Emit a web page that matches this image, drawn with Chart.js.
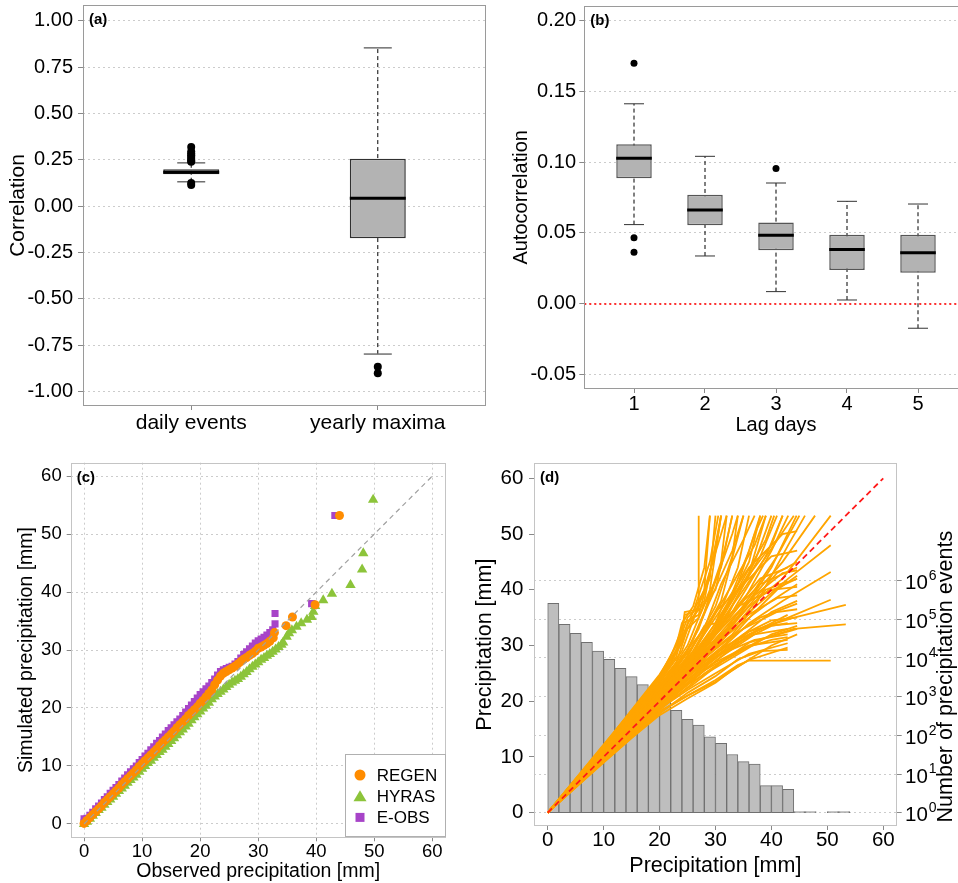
<!DOCTYPE html>
<html>
<head>
<meta charset="utf-8">
<script src="https://cdn.jsdelivr.net/npm/chart.js@4.4.1/dist/chart.umd.min.js"></script>
<style>
html, body { margin: 0; padding: 0; background: #fff; overflow: hidden; width: 958px; height: 883px; }
canvas { position: absolute; }
</style>
</head>
<body>
<canvas id="ca" width="490" height="440" style="left:0;top:0"></canvas>
<canvas id="cb" width="500" height="440" style="left:480px;top:0"></canvas>
<canvas id="cc" width="480" height="443" style="left:0;top:440px"></canvas>
<canvas id="cd" width="488" height="443" style="left:470px;top:440px"></canvas>
<script>
const FONT = "'Liberation Sans', Arial, Helvetica, sans-serif";

// (a) correlation boxplots
const corrGroups = ['daily events', 'yearly maxima'];
const corrQ1 = [0.172, -0.173];
const corrMedian = [0.183, 0.043];
const corrQ3 = [0.199, 0.256];
const corrLow = [0.132, -0.797];
const corrHigh = [0.234, 0.854];
const corrOutliers = [[0.32, 0.295, 0.285, 0.275, 0.265, 0.255, 0.245, 0.24, 0.125, 0.115], [-0.865, -0.901]];
const corrTicks = [-1, -0.75, -0.5, -0.25, 0, 0.25, 0.5, 0.75, 1];

// (b) autocorrelation by lag
const lagDays = [1, 2, 3, 4, 5];
const acfQ1 = [0.0885, 0.0554, 0.0378, 0.0240, 0.0220];
const acfMedian = [0.1026, 0.0662, 0.0484, 0.0383, 0.0361];
const acfQ3 = [0.1125, 0.0770, 0.0573, 0.0488, 0.0488];
const acfLow = [0.0559, 0.0338, 0.0087, 0.0028, -0.0171];
const acfHigh = [0.1410, 0.1040, 0.0852, 0.0723, 0.0704];
const acfOutliers = [[0.1695, 0.0467, 0.0364], [], [0.0955], [], []];
const acfTicks = [-0.05, 0, 0.05, 0.10, 0.15, 0.20];

// (c) QQ plot, observed vs simulated
const regenObs = [0, 0.5, 1, 1.5, 2, 2.5, 3, 3.5, 4, 4.5, 5, 5.5, 6, 6.5, 7, 7.5, 8, 8.5, 9, 9.5, 10,
  10.5, 11, 11.5, 12, 12.5, 13, 13.5, 14, 14.5, 15, 15.5, 16, 16.5, 17, 17.5, 18, 18.5, 19, 19.5, 20,
  20.5, 21, 21.5, 22, 22.5, 23, 23.5, 24, 24.5, 25, 25.5, 26, 26.5, 27, 27.5, 28, 28.5, 29, 29.5, 30, 30.5, 31, 31.5, 32,
  32.6, 32.8, 34.8, 35.9, 39.8, 44.0];
const regenSim = [0.1, 0.6, 1.1, 1.6, 2.1, 2.6, 3.1, 3.7, 4.2, 4.7, 5.2, 5.7, 6.2, 6.8, 7.3, 7.8, 8.3, 8.8, 9.3, 9.9, 10.4,
  10.9, 11.4, 11.9, 12.4, 12.9, 13.5, 14.0, 14.5, 15.0, 15.5, 16.0, 16.6, 17.1, 17.6, 18.1, 18.7, 19.2, 19.7, 20.2, 20.8,
  21.3, 21.9, 22.5, 23.1, 24, 24.8, 25.5, 26, 26.3, 26.6, 26.9, 27.2, 27.6, 28, 28.4, 28.7, 29.1, 29.4, 29.8, 30.3, 30.5, 30.8, 31.1, 31.5,
  32.1, 33.0, 34.2, 35.7, 37.8, 53.2];
const hyrasObs = [0, 0.5, 1, 1.5, 2, 2.5, 3, 3.5, 4, 4.5, 5, 5.5, 6, 6.5, 7, 7.5, 8, 8.5, 9, 9.5, 10,
  10.5, 11, 11.5, 12, 12.5, 13, 13.5, 14, 14.5, 15, 15.5, 16, 16.5, 17, 17.5, 18, 18.5, 19, 19.5, 20, 20.5, 21, 21.5, 22,
  22.5, 23, 23.5, 24, 24.5, 25, 25.5, 26, 26.5, 27, 27.5, 28, 28.5, 29, 29.5, 30, 30.5, 31, 31.5, 32, 32.5, 33, 33.5, 34,
  34.3, 34.9, 35.3, 35.8, 36.6, 37.4, 38.4, 39.2, 39.5, 39.8, 41.2, 42.7, 45.9, 47.9, 48.1, 49.8];
const hyrasSim = [0, 0.4, 0.9, 1.4, 1.9, 2.4, 2.8, 3.3, 3.8, 4.2, 4.7, 5.2, 5.7, 6.1, 6.6, 7.1, 7.6, 8.0, 8.5, 9.0, 9.5,
  10.0, 10.5, 10.9, 11.4, 11.9, 12.4, 12.8, 13.3, 13.8, 14.3, 14.8, 15.3, 15.8, 16.3, 16.8, 17.3, 17.9, 18.4, 18.9, 19.4, 19.9, 20.4, 20.9, 21.5,
  22.0, 22.4, 22.8, 23.2, 23.6, 24.0, 24.4, 24.7, 25.0, 25.4, 25.8, 26.2, 26.7, 27.1, 27.5, 27.9, 28.3, 28.6, 29.0, 29.3, 29.7, 30.1, 30.5, 30.9,
  31.3, 32.3, 32.9, 33.4, 34.0, 34.6, 35.2, 35.7, 36.6, 37.6, 38.6, 39.7, 41.2, 43.9, 46.7, 55.9];
const eobsObs = [0, 0, 0.5, 1, 1.5, 2, 2.5, 3, 3.5, 4, 4.5, 5, 5.5, 6, 6.5, 7, 7.5, 8, 8.5, 9, 9.5, 10,
  10.5, 11, 11.5, 12, 12.5, 13, 13.5, 14, 14.5, 15, 15.5, 16, 16.5, 17, 17.5, 18, 18.5, 19, 19.5, 20,
  20.5, 21, 21.5, 22, 22.5, 23, 23.5, 24, 24.5, 25, 25.5, 26, 26.5, 27, 27.5, 28, 28.5, 29, 29.5, 30, 30.5, 31, 31.5, 32, 32.5,
  32.9, 32.9, 39.2, 43.2];
const eobsSim = [0.3, 0.9, 1.0, 1.5, 2.0, 2.6, 3.1, 3.6, 4.2, 4.7, 5.3, 5.8, 6.3, 6.8, 7.4, 7.9, 8.5, 9.0, 9.5, 10.0, 10.6, 11.1,
  11.7, 12.2, 12.8, 13.3, 13.9, 14.4, 15.0, 15.5, 16.1, 16.6, 17.1, 17.6, 18.1, 18.7, 19.3, 19.9, 20.5, 21.1, 21.7, 22.3,
  22.8, 23.3, 23.8, 24.4, 25.0, 25.7, 26.3, 26.6, 26.8, 27.0, 27.2, 27.6, 28.0, 28.6, 29.2, 29.7, 30.2, 30.7, 31.2, 31.6, 31.9, 32.2, 32.6, 33.0, 33.5,
  34.5, 36.3, 38.0, 53.2];
const precipTicks = [0, 10, 20, 30, 40, 50, 60];

// (d) station QQ lines and event histogram
const binCenters = [1, 3, 5, 7, 9, 11, 13, 15, 17, 19, 21, 23, 25, 27, 29, 31, 33, 35, 37, 39, 41, 43, 45, 47, 51, 53];
const binCounts = [257000, 74000, 43600, 25500, 15100, 9270, 5400, 3300, 2040, 1220, 740, 445, 258, 185, 92, 62, 32, 21, 18, 5, 5, 4, 1, 1, 1, 1];
const eventTicks = [1, 10, 100, 1000, 10000, 100000, 1000000];
const eventExponents = ['0', '1', '2', '3', '4', '5', '6'];
const stationLines = [
  [[0, 0], [10, 12], [20, 24.5], [24, 32], [24.5, 36], [27, 36.5], [27, 53.3]],
  [[0, 0], [10, 11.8], [20, 24], [24, 31], [26, 35], [29, 42], [30, 53.3]],
  [[0, 0], [10, 11.3], [20, 22.8], [25, 29], [28, 36], [31, 45], [32, 53.3]],
  [[0, 0], [10, 11], [20, 22.3], [25, 28], [30, 37], [33, 46], [34, 53.3]],
  [[0, 0], [10, 10.4], [20, 21], [25, 27], [30, 34], [34, 44], [36, 53.3]],
  [[0, 0], [10, 10.7], [20, 21.6], [26, 28], [32, 37], [36, 47], [38, 53.3]],
  [[0, 0], [10, 10.1], [20, 20.5], [26, 27], [32, 35], [37, 45], [40, 53.3]],
  [[0, 0], [10, 10.5], [20, 21.2], [27, 28], [33, 36], [39, 46], [42, 53.3]],
  [[0, 0], [10, 10], [20, 20], [27, 27], [34, 35], [40, 44], [44.5, 53.3]],
  [[0, 0], [10, 9.8], [20, 20.2], [28, 29], [36, 38], [42, 45], [47.8, 53.3]],
  [[0, 0], [10, 10.2], [20, 20.8], [28, 30], [35, 40], [44, 53.3]],
  [[0, 0], [10, 11.6], [20, 23.5], [24, 29], [28, 40], [29, 53.3]],
  [[0, 0], [10, 11.1], [20, 22.5], [25, 30], [29, 40], [31, 53.3]],
  [[0, 0], [10, 10.6], [20, 21.4], [26, 29], [31, 38], [35, 53.3]],
  [[0, 0], [10, 9.9], [20, 19.8], [28, 28], [36, 37], [42, 42], [50.6, 53.3]],
  [[0, 0], [10, 9.7], [20, 19.5], [28, 27.5], [36, 36], [43, 42], [50.6, 48]],
  [[0, 0], [10, 9.6], [20, 19.2], [28, 26.5], [36, 34], [42, 38], [50.6, 43.2]],
  [[0, 0], [10, 9.4], [20, 18.8], [28, 25.5], [36, 32], [43, 35], [50.6, 38.2]],
  [[0, 0], [10, 9.2], [20, 18], [25, 21], [30, 23.8], [34, 26.5], [36, 27.3], [50.6, 27.3]],
  [[0, 0], [10, 9.5], [20, 19], [28, 26], [36, 32.5], [44, 35], [53.3, 37.3]],
  [[0, 0], [10, 9.3], [20, 18.4], [28, 25], [36, 30.5], [44, 33], [53.3, 33.8]],
  [[0, 0], [10, 9.1], [20, 17.8], [25, 21.5], [30, 24.5], [34, 27.5], [38, 29], [42.9, 29.2]],
  [[0, 0], [10, 9.4], [20, 18.7], [28, 25.5], [35, 29.5], [40, 31], [42.9, 31.5]],
  [[0, 0], [10, 9.6], [20, 19.3], [28, 26.5], [35, 31], [40, 33.5], [42.9, 34]],
  [[0, 0], [10, 9.9], [20, 19.9], [28, 28], [35, 33], [41, 36], [44.6, 36.5]],
  [[0, 0], [10, 10], [20, 20.3], [28, 29], [35, 35], [41, 38.5], [44.6, 39]],
  [[0, 0], [10, 10.3], [20, 20.9], [28, 31], [34, 37], [40, 40], [44.6, 40.5]],
  [[0, 0], [10, 9.8], [20, 19.7], [28, 27], [35, 32], [40, 34.5], [44.6, 35]],
  [[0, 0], [10, 9.2], [20, 18.2], [25, 21], [30, 23.5], [33, 25.5], [36, 27.5], [40, 30], [44.6, 32]],
  [[0, 0], [10, 9], [15, 13.4], [20, 17.5], [25, 20.5], [30, 23.3], [33, 25.6], [36, 27.4], [42.9, 29.6]],
  [[0, 0], [10, 10.9], [20, 22], [26, 30], [30, 36], [34, 40], [40, 48], [42, 53.3]],
  [[0, 0], [10, 10.2], [20, 20.7], [27, 29], [32, 35], [38, 41], [44.6, 44]],
  [[0, 0], [10, 10.4], [20, 21.1], [25, 26], [30, 32], [36, 38], [44.6, 42]],
  [[0, 0], [10, 9.9], [20, 20], [26, 26], [32, 31], [38, 35], [44.6, 37.5]],
  [[0, 0], [10, 11.4], [20, 23], [24, 27.5], [27, 33], [33, 50], [34, 53.3]],
  [[0, 0], [10, 12.2], [20, 24.3], [23, 30], [24, 34], [26, 37], [28, 44], [29, 53.3]],
  [[0, 0], [10, 9.5], [20, 19.4], [26, 24], [31, 28], [37, 32], [42.9, 33]],
  [[0, 0], [10, 10.6], [20, 21.5], [26, 28], [30, 33], [36, 43], [39, 53.3]],
  [[0, 0], [10, 11.5], [20, 23.8], [23, 28], [24.3, 33], [25, 35], [28, 38], [31, 53.3]],
  [[0, 0], [10, 11.2], [20, 23.2], [24, 30.5], [25, 34], [30, 40], [33, 53.3]],
  [[0, 0], [10, 10.8], [20, 22.2], [24, 28], [28, 33], [31, 41], [35, 49], [37, 53.3]],
  [[0, 0], [10, 10.5], [20, 21.3], [26, 27.5], [30, 32], [34, 39], [38, 46], [41, 53.3]],
  [[0, 0], [10, 10.3], [20, 20.9], [26, 27], [31, 33], [35, 38], [40, 47], [43, 53.3]],
  [[0, 0], [10, 10.1], [20, 20.4], [27, 27.5], [32, 33], [37, 40], [41, 46], [45, 53.3]],
  [[0, 0], [10, 10.7], [20, 22], [25, 27], [29, 31], [33, 36], [38, 42], [42.9, 44]],
  [[0, 0], [10, 10.4], [20, 21], [26, 27], [31, 31], [36, 35], [40, 38], [44.6, 41]],
  [[0, 0], [10, 9.9], [20, 19.9], [27, 26.5], [32, 30], [38, 33], [42.9, 35.5]],
  [[0, 0], [10, 9.7], [20, 19.6], [27, 25.5], [31, 28.5], [37, 31], [42.9, 32]],
  [[0, 0], [10, 10], [20, 20.1], [27, 26], [33, 30], [39, 33.5], [44.6, 34]],
  [[0, 0], [10, 10.6], [20, 21.8], [25, 26.5], [28, 30], [32, 37], [36, 45], [38, 53.3]],
  [[0, 0], [10, 10.9], [20, 22.6], [24, 27.5], [26, 31], [29, 38], [33, 47], [35, 53.3]],
  [[0, 0], [10, 11.7], [20, 24.2], [22, 27], [24, 31.5], [26, 36], [29, 45], [30.5, 53.3]],
  [[0, 0], [10, 11.4], [20, 23.3], [23, 27], [25, 33], [27, 35], [31, 44], [33, 53.3]],
  [[0, 0], [10, 10.2], [20, 20.6], [26, 28], [30, 33], [35, 42], [39, 49], [40.5, 53.3]],
  [[0, 0], [10, 10.8], [20, 22.1], [25, 27.5], [30, 35], [36, 44], [42, 50], [44.6, 50.5]],
  [[0, 0], [10, 10.5], [20, 21.5], [25, 26], [30, 30], [35, 36], [41, 43], [44.6, 45]],
  [[0, 0], [10, 10], [20, 20.3], [25, 24.5], [30, 28], [35, 32], [40, 36], [44.6, 38]],
  [[0, 0], [10, 9.8], [20, 19.8], [25, 24], [30, 27], [36, 30], [42.9, 31]],
  [[0, 0], [10, 9.3], [20, 18.6], [25, 22], [30, 25], [36, 28.5], [42.9, 30.4]],
  [[0, 0], [10, 9.6], [20, 19.1], [25, 23], [30, 26], [35, 29], [40, 32], [44.6, 33.5]],
  [[0, 0], [10, 11], [20, 22.4], [24, 26.5], [26, 30], [28, 33.5], [30, 34], [33, 39], [36, 42], [40, 46], [44.6, 47]],
  [[0, 0], [10, 10.3], [20, 21], [24, 24.5], [28, 29], [33, 34], [37, 39], [42, 43], [44.6, 43.5]],
  [[0, 0], [10, 12.1], [20, 24.8], [22, 28], [24, 33], [24.5, 35.5], [26, 36], [28, 40], [31, 50], [32, 53.3]],
  [[0, 0], [10, 11.9], [20, 24.6], [23, 29], [24.2, 34], [27, 35.5], [30, 47], [31, 53.3]],
  [[0, 0], [10, 10.4], [20, 21.2], [25, 26.5], [29, 30.5], [34, 41], [37, 50], [38.5, 53.3]],
  [[0, 0], [10, 9.9], [20, 20.2], [26, 25.5], [32, 30.5], [37, 36], [41, 40], [44.6, 42.5]],
  [[0, 0], [10, 10.1], [20, 20.5], [27, 27], [33, 32], [37, 37], [43, 48], [46, 53.3]],
  [[0, 0], [10, 10.2], [20, 20.8], [28, 28], [34, 34], [39, 40], [42.9, 41.5]],
  [[0, 0], [10, 9.5], [20, 18.9], [26, 23], [31, 27], [38, 31], [44.6, 33]],
  [[0, 0], [10, 10.7], [20, 21.9], [26, 28.5], [29, 34], [33, 41], [37, 48], [39, 53.3]]
];

// frame around the plot region + panel letter
const framePlugin = {
  id: 'frame',
  afterDraw(chart, args, opts) {
    const { ctx, chartArea: a } = chart;
    ctx.save();
    ctx.strokeStyle = opts.color;
    ctx.lineWidth = 1;
    ctx.strokeRect(Math.round(a.left) + 0.5, Math.round(a.top) + 0.5,
      Math.round(a.right - a.left) - 1, Math.round(a.bottom - a.top) - 1);
    ctx.fillStyle = '#000';
    ctx.font = 'bold 15px ' + FONT;
    ctx.textBaseline = 'middle';
    ctx.fillText(opts.label, a.left + 6, a.top + 15);
    ctx.restore();
  }
};

function axis(o) {
  const vertical = o.position === 'left' || o.position === 'right';
  return {
    type: o.type || 'linear',
    position: o.position,
    min: o.min,
    max: o.max,
    offset: false,
    afterBuildTicks: s => { s.ticks = o.ticks.map(v => ({ value: v })); },
    afterFit: s => {
      if (vertical) s.width = o.size; else s.height = o.size;
      s.paddingTop = s.paddingBottom = s.paddingLeft = s.paddingRight = 0;
    },
    ticks: {
      display: !o.hideLabels,
      callback: o.labels ? (v, i) => o.labels[i] : v => String(v),
      font: { family: FONT, size: o.font || 20, lineHeight: 1 },
      color: '#000',
      padding: o.pad,
      autoSkip: false,
      maxRotation: 0,
      minRotation: 0
    },
    grid: {
      drawOnChartArea: !!o.grid,
      drawTicks: true,
      tickLength: o.tick,
      tickColor: '#888',
      tickWidth: 1,
      color: o.gridColor || '#cccccc',
      lineWidth: 1,
      offset: false
    },
    border: { display: false, dash: [2, 3] },
    title: o.title ? {
      display: true, text: o.title, color: '#000',
      font: { family: FONT, size: o.titleSize || 20, lineHeight: 1.2 },
      padding: { top: o.tp || 0, bottom: o.tp || 0 }
    } : { display: false }
  };
}

function baseOptions(padding, frame, scales) {
  return {
    responsive: false, animation: false, devicePixelRatio: 1, events: [],
    layout: { padding, autoPadding: false },
    plugins: { legend: { display: false }, tooltip: { enabled: false }, frame },
    scales
  };
}

function boxDatasets(pos, q1, med, q3, lo, hi, out, st) {
  const ds = [];
  ds.push({
    type: 'bar', data: pos.map((x, i) => ({ x, y: [q1[i], q3[i]] })),
    backgroundColor: st.fill, borderColor: st.border, borderWidth: st.bw, borderSkipped: false,
    categoryPercentage: 1, barPercentage: st.width, order: 2
  });
  ds.push({
    type: 'scatter', data: pos.map((x, i) => ({ x, y: med[i] })),
    pointStyle: 'line', pointRadius: st.medR, pointBorderWidth: 3, pointBorderColor: '#000', order: 1
  });
  ds.push({
    type: 'scatter', data: pos.flatMap((x, i) => [{ x, y: lo[i] }, { x, y: hi[i] }]),
    pointStyle: 'line', pointRadius: st.capR, pointBorderWidth: st.capW, pointBorderColor: st.capColor, order: 3
  });
  pos.forEach((x, i) => ds.push({
    type: 'line', data: [{ x, y: lo[i] }, { x, y: hi[i] }],
    borderColor: '#000', borderWidth: 1, borderDash: [4, 3], pointRadius: 0, order: 4
  }));
  ds.push({
    type: 'scatter', data: pos.flatMap((x, i) => out[i].map(y => ({ x, y }))),
    pointRadius: st.outR, pointBackgroundColor: '#000', pointBorderWidth: 0, order: 0
  });
  return ds;
}

// Panel (a)
new Chart(document.getElementById('ca'), {
  type: 'line',
  data: {
    datasets: boxDatasets([1, 2], corrQ1, corrMedian, corrQ3, corrLow, corrHigh, corrOutliers,
      { fill: '#b3b3b3', border: '#303030', bw: 1.5, width: 0.3, medR: 28, capR: 14, capW: 1.5, capColor: '#707070', outR: 4 })
  },
  options: baseOptions({ left: 0, top: 5, right: 4, bottom: 0 }, { color: '#9a9a9a', label: '(a)' }, {
    x: axis({ position: 'bottom', min: 0.42, max: 2.58, ticks: [1, 2], labels: corrGroups, size: 34, tick: 4, pad: 2.5, font: 21 }),
    y: axis({ position: 'left', min: -1.077, max: 1.085, ticks: corrTicks, labels: corrTicks.map(v => v.toFixed(2)),
      size: 83, tick: 5, pad: 5, grid: true, title: 'Correlation', titleSize: 21, tp: 5.4 })
  }),
  plugins: [framePlugin]
});

// Panel (b)
const lagMin = 0.3, lagMax = 5.7;
new Chart(document.getElementById('cb'), {
  type: 'line',
  data: {
    datasets: [
      ...boxDatasets(lagDays, acfQ1, acfMedian, acfQ3, acfLow, acfHigh, acfOutliers,
        { fill: '#b3b3b3', border: '#555', bw: 1.5, width: 0.5, medR: 17.8, capR: 10, capW: 1, capColor: '#333', outR: 3.5 }),
      { type: 'line', data: [{ x: lagMin, y: 0 }, { x: lagMax, y: 0 }], borderColor: '#ff3030', borderWidth: 2,
        borderDash: [2, 3], pointRadius: 0, order: 5 }
    ]
  },
  options: baseOptions({ left: 0, top: 5.7, right: 12.3, bottom: 0 }, { color: '#9a9a9a', label: '(b)' }, {
    x: axis({ position: 'bottom', min: lagMin, max: lagMax, ticks: lagDays, size: 51, tick: 4, pad: 1.3,
      title: 'Lag days', tp: 2.3 }),
    y: axis({ position: 'left', min: -0.0599, max: 0.2101, ticks: acfTicks, labels: acfTicks.map(v => v.toFixed(2)),
      size: 104.3, tick: 5, pad: 3.3, grid: true, title: 'Autocorrelation', tp: 29 })
  }),
  plugins: [framePlugin]
});

// Panel (c)
const qqSeries = [
  { label: 'REGEN', obs: regenObs, sim: regenSim, color: '#ff8c00', style: 'circle', r: 4.5 },
  { label: 'HYRAS', obs: hyrasObs, sim: hyrasSim, color: '#8cc43a', style: 'triangle', r: 6 },
  { label: 'E-OBS', obs: eobsObs, sim: eobsSim, color: '#a744c8', style: 'rect', r: 5 }
];
const qqLegend = {
  id: 'qqLegend',
  afterDraw(chart) {
    const { ctx, chartArea: a } = chart;
    const w = 101, h = 83;
    const x0 = Math.round(a.right) - w, y0 = Math.round(a.bottom) - h;
    ctx.save();
    ctx.fillStyle = '#fff';
    ctx.fillRect(x0, y0, w, h);
    ctx.strokeStyle = '#b0b0b0';
    ctx.lineWidth = 1;
    ctx.strokeRect(x0 + 0.5, y0 + 0.5, w - 1, h - 1);
    ctx.font = '17px ' + FONT;
    ctx.textBaseline = 'middle';
    qqSeries.forEach((s, i) => {
      const cy = y0 + 21 + i * 21.2, cx = x0 + 15;
      ctx.fillStyle = s.color;
      ctx.beginPath();
      if (s.style === 'circle') ctx.arc(cx, cy, 5.5, 0, Math.PI * 2);
      else if (s.style === 'triangle') { ctx.moveTo(cx, cy - 6); ctx.lineTo(cx + 6.5, cy + 5); ctx.lineTo(cx - 6.5, cy + 5); ctx.closePath(); }
      else ctx.rect(cx - 4.5, cy - 4.5, 9, 9);
      ctx.fill();
      ctx.fillStyle = '#000';
      ctx.fillText(s.label, x0 + 31.7, cy + 1);
    });
    ctx.restore();
  }
};
new Chart(document.getElementById('cc'), {
  type: 'line',
  data: {
    datasets: [
      { type: 'line', data: [{ x: 0, y: 0 }, { x: 60, y: 60 }], borderColor: '#a0a0a0', borderWidth: 1.2,
        borderDash: [5, 4], pointRadius: 0, order: -1 },
      ...qqSeries.map((s, k) => ({
        type: 'scatter', label: s.label, data: s.obs.map((x, i) => ({ x, y: s.sim[i] })),
        pointStyle: s.style, pointRadius: s.r, pointBackgroundColor: s.color, pointBorderWidth: 0, order: k
      }))
    ]
  },
  options: baseOptions({ left: 0, top: 22.7, right: 34.3, bottom: 0 }, { color: '#c4c4c4', label: '(c)' }, {
    x: axis({ position: 'bottom', min: -2.3, max: 62.3, ticks: precipTicks, size: 45.7, tick: 4, pad: 1.2, font: 18.5,
      grid: true, title: 'Observed precipitation [mm]', titleSize: 19.5, tp: 0 }),
    y: axis({ position: 'left', min: -2.3, max: 62.3, ticks: precipTicks, size: 70.7, tick: 4, pad: 5, font: 18.5,
      grid: true, title: 'Simulated precipitation [mm]', titleSize: 19.5, tp: 14.8 })
  }),
  plugins: [framePlugin, qqLegend]
});

// Panel (d)
const eventAxis = {
  id: 'eventAxis',
  afterDraw(chart) {
    const { ctx, chartArea: a } = chart;
    const s = chart.scales.yR;
    ctx.save();
    ctx.fillStyle = '#000';
    ctx.textBaseline = 'middle';
    ctx.textAlign = 'left';
    eventTicks.forEach((v, i) => {
      const y = s.getPixelForValue(v);
      const x = a.right + 8.3;
      ctx.font = '20.5px ' + FONT;
      ctx.fillText('10', x, y + 3);
      const w = ctx.measureText('10').width;
      ctx.font = '14px ' + FONT;
      ctx.fillText(eventExponents[i], x + w + 1, y - 4.5);
    });
    ctx.font = '21.5px ' + FONT;
    ctx.translate(a.right + 48.9, (a.top + a.bottom) / 2 + 32);
    ctx.rotate(-Math.PI / 2);
    ctx.textAlign = 'center';
    ctx.fillText('Number of precipitation events', 0, 0);
    ctx.restore();
  }
};
new Chart(document.getElementById('cd'), {
  type: 'line',
  data: {
    datasets: [
      { type: 'line', data: [{ x: 0, y: 0 }, { x: 60, y: 60 }], borderColor: '#ff1a1a', borderWidth: 1.8,
        borderDash: [6, 4], pointRadius: 0, order: 0 },
      ...stationLines.map(line => ({
        type: 'line', data: line.map(p => ({ x: p[0], y: p[1] })), borderColor: '#ffa500', borderWidth: 1.8,
        pointRadius: 0, tension: 0, fill: false, order: 1
      })),
      { type: 'bar', yAxisID: 'yR', data: binCenters.map((x, i) => ({ x, y: [1, binCounts[i]] })),
        backgroundColor: '#bebebe', borderColor: '#707070', borderWidth: 1, borderSkipped: false,
        categoryPercentage: 1, barPercentage: 1, minBarLength: 1, order: 2 }
    ]
  },
  options: baseOptions({ left: 0, top: 23.3, right: 0, bottom: 0 }, { color: '#c4c4c4', label: '(d)' }, {
    x: axis({ position: 'bottom', min: -2.45, max: 62.4, ticks: precipTicks, size: 57, tick: 4, pad: 0.3, font: 20.5,
      title: 'Precipitation [mm]', titleSize: 21.5, tp: 4 }),
    y: axis({ position: 'left', min: -2.39, max: 62.69, ticks: precipTicks, size: 64, tick: 5, pad: 5.7, font: 20.5,
      title: 'Precipitation [mm]', titleSize: 21.5, tp: 2.1 }),
    yR: axis({ type: 'logarithmic', position: 'right', min: 0.453, max: 1.08e9, ticks: eventTicks, size: 61.3,
      tick: 5, pad: 3.3, grid: true, hideLabels: true })
  }),
  plugins: [framePlugin, eventAxis]
});
</script>
</body>
</html>
